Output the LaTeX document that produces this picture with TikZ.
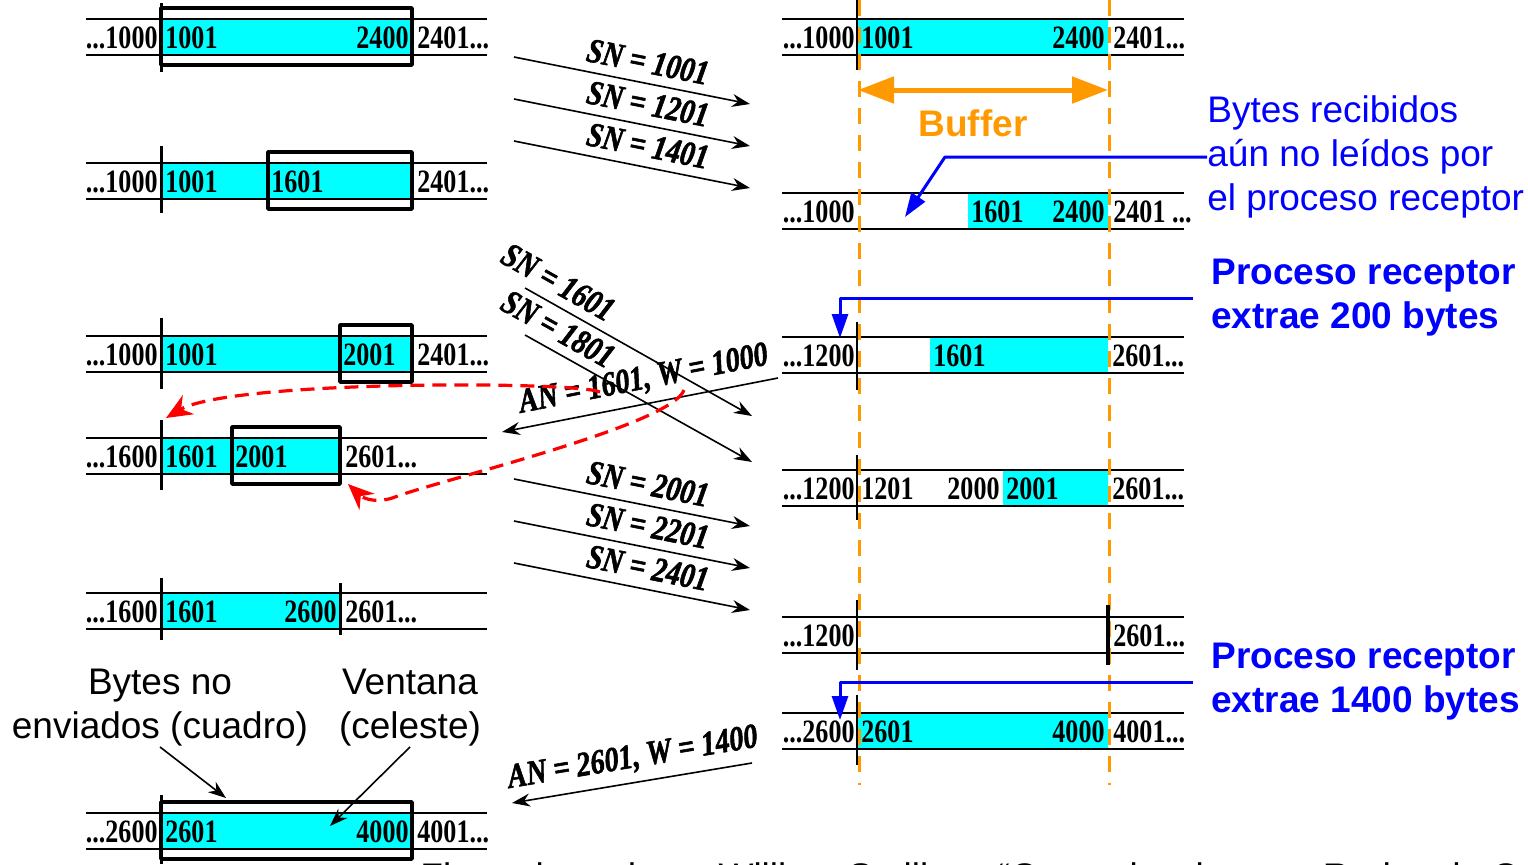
\documentclass[tikz,border=0pt]{standalone}
\usepackage{fontspec}
\setmainfont{Liberation Sans}
\newfontfamily\numfont[FakeStretch=0.8]{Liberation Serif}
\newfontfamily\lblfont[FakeStretch=0.82,FakeBold=1.6]{Liberation Serif Bold Italic}
\usetikzlibrary{arrows.meta}
\definecolor{celeste}{RGB}{0,255,255}
\definecolor{naranja}{RGB}{255,153,0}
\begin{document}
\begin{tikzpicture}[x=0.5pt,y=-0.5pt,>={Stealth[length=9pt,width=6.5pt]},line join=round,
	num/.style={font=\numfont\bfseries\fontsize{16.3pt}{18pt}\selectfont,inner sep=0pt},
	ne/.style={num,anchor=base east},
	nw/.style={num,anchor=base west},
	sn/.style={font=\lblfont\fontsize{17.3pt}{19pt}\selectfont,inner sep=2pt,above=2.5pt},
	txt/.style={font=\fontsize{18.5pt}{22pt}\selectfont,inner sep=0pt,align=left},
	tira/.style={line width=1pt},
	caja/.style={line width=1.8pt},
	barra/.style={line width=1.5pt},
	fina/.style={line width=0.8pt},
	flecha/.style={->,line width=0.8pt},
	azul/.style={draw=blue,line width=1.5pt,-{Triangle[length=12pt,width=8pt]}},
	rojo/.style={red,line width=1.6pt,dash pattern=on 7pt off 4pt,-{Stealth[length=13pt,width=11pt]}},
	guia/.style={naranja,line width=1.5pt,dash pattern=on 8pt off 5.5pt}]
	\useasboundingbox (0,0) rectangle (1528,864);
	\fill[celeste] (161,19) rectangle (411,55) (161,163) rectangle (411,199) (161,336) rectangle (411,372)
		(161,438) rectangle (340,474) (161,593) rectangle (340,629) (161,813) rectangle (411,849);
	\fill[celeste] (858,19) rectangle (1108,55) (968,193) rectangle (1108,229) (930,337) rectangle (1108,373)
		(1003,470) rectangle (1108,506) (858,713) rectangle (1108,749);
	\foreach \t in {19,163,336,438,593,813}
		\draw[tira] (86,\t) -- (487,\t) (86,\t+36) -- (487,\t+36);
	\foreach \t in {19,193,337,470,617,713}
		\draw[tira] (782,\t) -- (1184,\t) (782,\t+36) -- (1184,\t+36);
	\draw[caja] (161,8) rectangle (412,65) (268,152) rectangle (412,209) (340,325) rectangle (412,382)
		(232,427) rectangle (340,484) (161,802) rectangle (412,859);
	\draw[barra] (161,3) -- (161,72) (161,146) -- (161,213) (161,318) -- (161,389) (161,420) -- (161,490)
		(161,578) -- (161,640) (340,583) -- (340,635) (161,795) -- (161,864);
	\draw[guia] (859,0) -- (859,785) (1109,0) -- (1109,785);
	\draw[fina] (857,0) -- (857,70) (857,322) -- (857,390) (857,455) -- (857,520) (857,600) -- (857,670) (857,695) -- (857,765);
	\draw[line width=2.2pt] (1108,605) -- (1108,665);
	\node[ne] (l1a) at (158,48) {...1000};
	\node[nw] (l1b) at (165,48) {1001};
	\node[ne] (l1c) at (409,48) {2400};
	\node[nw] (l1d) at (417,48) {2401...};
	\node[ne] (l2a) at (158,192) {...1000};
	\node[nw] (l2b) at (165,192) {1001};
	\node[nw] (l2c) at (271,192) {1601};
	\node[nw] (l2d) at (417,192) {2401...};
	\node[ne] (l3a) at (158,365) {...1000};
	\node[nw] (l3b) at (165,365) {1001};
	\node[nw] (l3c) at (343,365) {2001};
	\node[nw] (l3d) at (417,365) {2401...};
	\node[ne] (l4a) at (158,467) {...1600};
	\node[nw] (l4b) at (165,467) {1601};
	\node[nw] (l4c) at (235,467) {2001};
	\node[nw] (l4d) at (345,467) {2601...};
	\node[ne] (l5a) at (158,622) {...1600};
	\node[nw] (l5b) at (165,622) {1601};
	\node[ne] (l5c) at (337,622) {2600};
	\node[nw] (l5d) at (345,622) {2601...};
	\node[ne] (l6a) at (158,842) {...2600};
	\node[nw] (l6b) at (165,842) {2601};
	\node[ne] (l6c) at (409,842) {4000};
	\node[nw] (l6d) at (417,842) {4001...};
	\node[ne] (r1a) at (855,48) {...1000};
	\node[nw] (r1b) at (861,48) {1001};
	\node[ne] (r1c) at (1105,48) {2400};
	\node[nw] (r1d) at (1113,48) {2401...};
	\node[ne] (r2a) at (855,222) {...1000};
	\node[nw] (r2b) at (971,222) {1601};
	\node[ne] (r2c) at (1105,222) {2400};
	\node[nw] (r2d) at (1113,222) {2401 ...};
	\node[ne] (r3a) at (855,366) {...1200};
	\node[nw] (r3b) at (933,366) {1601};
	\node[nw] (r3c) at (1112,366) {2601...};
	\node[ne] (r4a) at (855,499) {...1200};
	\node[nw] (r4b) at (861,499) {1201};
	\node[ne] (r4c) at (1000,499) {2000};
	\node[nw] (r4d) at (1006,499) {2001};
	\node[nw] (r4e) at (1112,499) {2601...};
	\node[ne] (r5a) at (855,646) {...1200};
	\node[nw] (r5b) at (1113,646) {2601...};
	\node[ne] (r6a) at (855,742) {...2600};
	\node[nw] (r6b) at (861,742) {2601};
	\node[ne] (r6c) at (1105,742) {4000};
	\node[nw] (r6d) at (1113,742) {4001...};
	\foreach \y/\v in {57/1001,99/1201,141/1401,479/2001,521/2201,563/2401}{
		\coordinate (s\v a) at (514,\y);
		\coordinate (s\v b) at (750,\y+47);
		\draw[flecha] (s\v a) -- (s\v b) node[sn,pos=0.55,sloped] (sn\v) {SN = \v};
	}
	\coordinate (s1601a) at (525,288);
	\coordinate (s1601b) at (752,416);
	\draw[flecha] (s1601a) -- (s1601b) node[sn,pos=0.1,sloped] (sn1601) {SN = 1601};
	\coordinate (s1801a) at (525,335);
	\coordinate (s1801b) at (752,462);
	\draw[flecha] (s1801a) -- (s1801b) node[sn,pos=0.1,sloped] (sn1801) {SN = 1801};
	\coordinate (an1a) at (502,432);
	\coordinate (an1b) at (778,378);
	\draw[flecha,<-] (an1a) -- (an1b) node[sn,pos=0.53,sloped] (an1601) {AN = 1601, W = 1000};
	\coordinate (an2a) at (512,803);
	\coordinate (an2b) at (752,763);
	\draw[flecha,<-] (an2a) -- (an2b) node[sn,pos=0.52,sloped] (an2601) {AN = 2601, W = 1400};
	\coordinate (ra1) at (600,392);
	\coordinate (rb1) at (166,418);
	\draw[rojo] (ra1) .. controls (575,381) and (230,380) .. (rb1);
	\coordinate (ra2) at (684,390);
	\coordinate (rb2) at (348,484);
	\draw[rojo] (ra2) .. controls (672,425) and (440,480) .. (395,497) .. controls (380,503) and (365,500) .. (rb2);
	\coordinate (bufa) at (858,90);
	\coordinate (bufb) at (1108,90);
	\draw[naranja,line width=2.5pt,{Triangle[length=18pt,width=13pt]}-{Triangle[length=18pt,width=13pt]}] (bufa) -- (bufb);
	\node[txt,text=naranja,font=\fontsize{18.5pt}{22pt}\selectfont\bfseries] (buftxt) at (973,123) {Buffer};
	\node[txt,text=blue,anchor=west] (recib) at (1207,157) {Bytes recibidos\\aún no leídos por\\el proceso receptor};
	\coordinate (rc) at (945,156);
	\coordinate (rd) at (905,217);
	\draw[azul] (recib.west) -- (recib.west -| rc) -- (rd);
	\node[txt,text=blue,font=\fontsize{18.5pt}{22pt}\selectfont\bfseries,anchor=west] (ext200) at (1211,298) {Proceso receptor\\extrae 200 bytes};
	\coordinate (p200) at (840,338);
	\draw[azul] ([xshift=-9pt]ext200.west) -| (p200);
	\node[txt,text=blue,font=\fontsize{18.5pt}{22pt}\selectfont\bfseries,anchor=west] (ext1400) at (1211,682) {Proceso receptor\\extrae 1400 bytes};
	\coordinate (p1400) at (840,720);
	\draw[azul] ([xshift=-9pt]ext1400.west) -| (p1400);
	\node[txt,align=center] (noenv) at (160,708) {Bytes no\\enviados (cuadro)};
	\node[txt,align=center] (vent) at (410,708) {Ventana\\(celeste)};
	\coordinate (ne1) at (226,798);
	\coordinate (ve1) at (330,826);
	\draw[flecha] (noenv.south) -- (ne1);
	\draw[flecha] (vent.south) -- (ve1);
	\node[txt,anchor=base west] (fig) at (420,889) {Figura basada en William Stallings “Comunicaciones y Redes de Computadores”};
\end{tikzpicture}
\end{document}
